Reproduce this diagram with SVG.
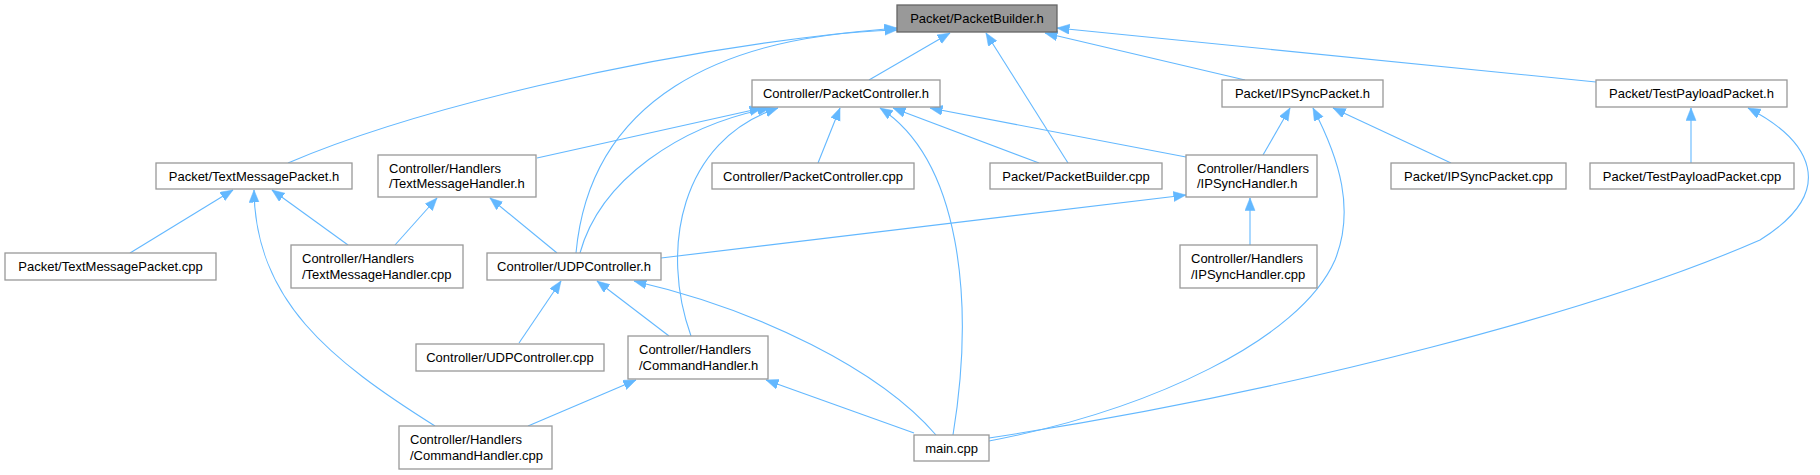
<svg xmlns="http://www.w3.org/2000/svg" width="1820" height="475" viewBox="0 0 1820 475">
<style>
.n rect{fill:#ffffff;stroke:#999999;stroke-width:1.3}
.root rect{fill:#999999;stroke:#666666;stroke-width:1.3}
text{font-family:"Liberation Sans",Arial,Helvetica,sans-serif;font-size:13px;fill:#000000}
.c{text-anchor:middle}
.e path{fill:none;stroke:#63b8ff;stroke-width:1.1;marker-end:url(#ah)}
</style>
<defs>
<marker id="ah" markerUnits="userSpaceOnUse" markerWidth="14" markerHeight="12" refX="12.5" refY="5" orient="auto">
<path d="M0,0 L12.5,5 L0,10 z" fill="#63b8ff" stroke="#63b8ff" stroke-width="0.5"/>
</marker>
</defs>
<rect width="1820" height="475" fill="#ffffff"/>
<g id="connectors" class="e">
<path d="M288,163 C400,115 640,50 897,28"/>
<path d="M576,253 C590,100 720,35 897,30"/>
<path d="M869,80 L950,33"/>
<path d="M1068,163 L986,33"/>
<path d="M1245,80 L1045,33"/>
<path d="M1596,82 L1057,28"/>
<path d="M130,253 L233,190"/>
<path d="M348,245 L272,190"/>
<path d="M435,426 C330,360 255,300 254,190"/>
<path d="M537,158 L762,108"/>
<path d="M580,253 C600,180 680,125 770,108"/>
<path d="M691,336 C660,250 680,140 778,108"/>
<path d="M818,163 L840,108"/>
<path d="M953,435 C975,300 960,160 880,108"/>
<path d="M1039,163 L893,108"/>
<path d="M1186,157 L930,108"/>
<path d="M395,245 L437,198"/>
<path d="M557,253 L490,198"/>
<path d="M1263,155 L1290,108"/>
<path d="M1451,163 L1333,108"/>
<path d="M989,441 C1150,410 1300,340 1335,260 C1355,210 1340,160 1313,108"/>
<path d="M1691,163 L1691,108"/>
<path d="M989,438 C1300,390 1600,310 1760,240 C1840,190 1810,140 1748,108"/>
<path d="M661,258 L1186,195"/>
<path d="M1250,245 L1250,198"/>
<path d="M519,343 L561,281"/>
<path d="M669,336 L597,281"/>
<path d="M936,435 C880,370 760,310 634,281"/>
<path d="M528,426 L636,380"/>
<path d="M914,433 L766,380"/>
</g>
<g id="n0" class="root"><rect x="897" y="5" width="160" height="27"/><text class="c" x="977" y="23">Packet/PacketBuilder.h</text></g>
<g id="n1" class="n"><rect x="156" y="163" width="196" height="26"/><text class="c" x="254" y="180.5">Packet/TextMessagePacket.h</text></g>
<g id="n2" class="n"><rect x="752" y="80" width="188" height="27"/><text class="c" x="846" y="98">Controller/PacketController.h</text></g>
<g id="n3" class="n"><rect x="1222" y="80" width="161" height="27"/><text class="c" x="1302.5" y="98">Packet/IPSyncPacket.h</text></g>
<g id="n4" class="n"><rect x="1596" y="80" width="191" height="27"/><text class="c" x="1691.5" y="98">Packet/TestPayloadPacket.h</text></g>
<g id="n5" class="n"><rect x="5" y="253" width="211" height="27"/><text class="c" x="110.5" y="271">Packet/TextMessagePacket.cpp</text></g>
<g id="n6" class="n"><rect x="378" y="155" width="158" height="42"/><text x="389" y="173">Controller/Handlers</text><text x="389" y="188">/TextMessageHandler.h</text></g>
<g id="n7" class="n"><rect x="291" y="245" width="172" height="43"/><text x="302" y="263">Controller/Handlers</text><text x="302" y="279">/TextMessageHandler.cpp</text></g>
<g id="n8" class="n"><rect x="487" y="253" width="174" height="27"/><text class="c" x="574" y="271">Controller/UDPController.h</text></g>
<g id="n9" class="n"><rect x="712" y="163" width="202" height="26"/><text class="c" x="813" y="180.5">Controller/PacketController.cpp</text></g>
<g id="n10" class="n"><rect x="990" y="163" width="172" height="26"/><text class="c" x="1076" y="180.5">Packet/PacketBuilder.cpp</text></g>
<g id="n11" class="n"><rect x="1186" y="155" width="131" height="42"/><text x="1197" y="173">Controller/Handlers</text><text x="1197" y="188">/IPSyncHandler.h</text></g>
<g id="n12" class="n"><rect x="1180" y="245" width="137" height="43"/><text x="1191" y="263">Controller/Handlers</text><text x="1191" y="279">/IPSyncHandler.cpp</text></g>
<g id="n13" class="n"><rect x="1391" y="163" width="175" height="26"/><text class="c" x="1478.5" y="180.5">Packet/IPSyncPacket.cpp</text></g>
<g id="n14" class="n"><rect x="1590" y="163" width="204" height="26"/><text class="c" x="1692" y="180.5">Packet/TestPayloadPacket.cpp</text></g>
<g id="n15" class="n"><rect x="416" y="344" width="188" height="27"/><text class="c" x="510" y="362">Controller/UDPController.cpp</text></g>
<g id="n16" class="n"><rect x="628" y="336" width="140" height="43"/><text x="639" y="354">Controller/Handlers</text><text x="639" y="370">/CommandHandler.h</text></g>
<g id="n17" class="n"><rect x="399" y="426" width="153" height="43"/><text x="410" y="444">Controller/Handlers</text><text x="410" y="460">/CommandHandler.cpp</text></g>
<g id="n18" class="n"><rect x="914" y="435" width="75" height="26"/><text class="c" x="951.5" y="452.5">main.cpp</text></g>
</svg>
